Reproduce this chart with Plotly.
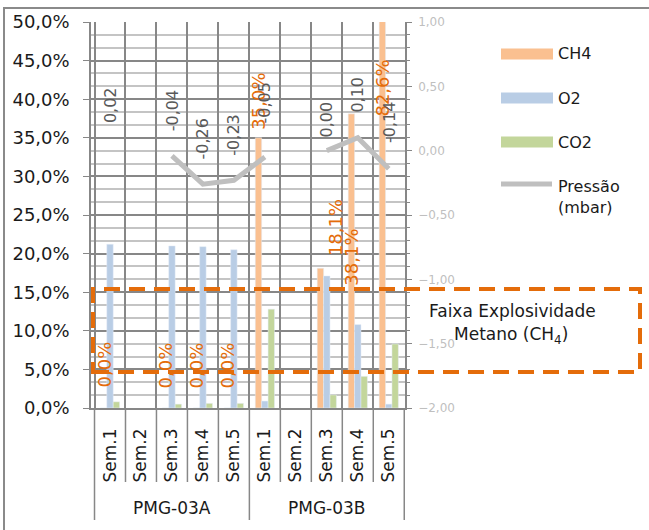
import plotly.graph_objects as go

grupos = ["PMG-03A", "PMG-03B"]
semanas = ["Sem.1", "Sem.2", "Sem.3", "Sem.4", "Sem.5"]

# concentracoes em % (Sem.2 sem leitura)
ch4 = [0.0, None, 0.0, 0.0, 0.0, 35.0, None, 18.1, 38.1, 82.6]
o2 = [21.2, None, 21.0, 20.9, 20.5, 0.9, None, 17.1, 10.8, 0.5]
co2 = [0.8, None, 0.5, 0.6, 0.6, 12.8, None, 1.7, 4.1, 8.3]
# pressao em mbar
pressao = [0.02, None, -0.04, -0.26, -0.23, -0.05, None, 0.00, 0.10, -0.14]

cats = [g + " " + s for g in grupos for s in semanas]
tick_txt = [s for g in grupos for s in semanas]

FONT = "DejaVu Sans"
C_CH4, C_O2, C_CO2, C_P = "#FAC090", "#B9CDE5", "#C3D69B", "#BFBFBF"
LARANJA = "#E46C0A"
GRADE = "#878787"
TXT = "#1a1a1a"

# area do grafico em pixels
L, R, T, B = 91, 405, 22, 408


def px(x):
    return (x - L) / (R - L)


def py(y):
    return (B - y) / (B - T)


def pct(vals):
    return [None if v is None else v / 100 for v in vals]


fig = go.Figure()
fig.add_trace(go.Bar(x=cats, y=pct(ch4), name="CH4", marker_color=C_CH4))
fig.add_trace(go.Bar(x=cats, y=pct(o2), name="O2", marker_color=C_O2))
fig.add_trace(go.Bar(x=cats, y=pct(co2), name="CO2", marker_color=C_CO2))
fig.add_trace(go.Scatter(x=cats, y=pressao, name="Pressão (mbar)", mode="lines",
                         line=dict(color=C_P, width=5), connectgaps=False, yaxis="y2"))

anns = []
# rotulos do CH4 (alguns foram arrastados no original)
ch4_dx = [0, 0, 0, 0, 0, 0, 0, 15, 0, 0]
ch4_dy = [18, 0, 18, 18, 18, 6, 0, 10, -174, -96]
for i, v in enumerate(ch4):
    if v is None:
        continue
    anns.append(dict(x=cats[i], y=min(v, 49.9) / 100, yref="y", xref="x",
                     text=f"{v:.1f}%".replace(".", ","), showarrow=False,
                     textangle=-90, xanchor="center", yanchor="bottom",
                     xshift=-6.5 + ch4_dx[i], yshift=ch4_dy[i],
                     font=dict(family=FONT, size=18, color=LARANJA)))

p_dy = [23, 0, 23, 23, 23, 32, 0, 11, 23, 24]
for i, v in enumerate(pressao):
    if v is None:
        continue
    anns.append(dict(x=cats[i], y=v, yref="y2", xref="x",
                     text=f"{v:.2f}".replace(".", ","), showarrow=False,
                     textangle=-90, xanchor="center", yanchor="bottom", yshift=p_dy[i],
                     font=dict(family=FONT, size=16, color="#595959")))

# grupos no eixo x
for k, g in enumerate(grupos):
    anns.append(dict(x=2 + 5 * k, y=py(508), xref="x", yref="paper", text=g,
                     xanchor="center", yanchor="middle", showarrow=False,
                     font=dict(family=FONT, size=17, color=TXT)))

shapes = []
# separadores abaixo do eixo
for k in range(len(cats) + 1):
    longo = k % 5 == 0
    shapes.append(dict(type="line", xref="x", yref="paper", x0=k - 0.5, x1=k - 0.5,
                       y0=0, y1=py(520 if longo else 482),
                       line=dict(color=GRADE, width=1.5)))

# legenda desenhada a mao
leg = [("CH4", C_CH4, 54), ("O2", C_O2, 98), ("CO2", C_CO2, 142)]
for nome, cor, yc in leg:
    shapes.append(dict(type="rect", xref="paper", yref="paper", x0=px(501), x1=px(553),
                       y0=py(yc + 5.5), y1=py(yc - 5.5), fillcolor=cor, line_width=0))
    anns.append(dict(x=px(556), y=py(yc), xref="paper", yref="paper", text=nome,
                     xanchor="left", yanchor="middle", showarrow=False,
                     font=dict(family=FONT, size=16, color=TXT)))
shapes.append(dict(type="line", xref="paper", yref="paper", x0=px(501), x1=px(552),
                   y0=py(184), y1=py(184), line=dict(color=C_P, width=5)))
anns.append(dict(x=px(556), y=py(197), xref="paper", yref="paper",
                 text="Pressão<br>(mbar)", xanchor="left", yanchor="middle", align="left",
                 showarrow=False, font=dict(family=FONT, size=16, color=TXT)))

# faixa de explosividade
shapes.append(dict(type="rect", xref="paper", yref="paper", x0=px(93), x1=px(640),
                   y0=py(372), y1=py(289), line=dict(color=LARANJA, width=4, dash="16px,9px")))
anns.append(dict(x=px(512), y=py(311), xref="paper", yref="paper", text="Faixa Explosividade",
                 xanchor="center", yanchor="middle", showarrow=False,
                 font=dict(family=FONT, size=17, color=TXT)))
anns.append(dict(x=px(511), y=py(335), xref="paper", yref="paper", text="Metano (CH<sub>4</sub>)",
                 xanchor="center", yanchor="middle", showarrow=False,
                 font=dict(family=FONT, size=17, color=TXT)))

# moldura do grafico (lado direito fica fora da imagem)
shapes.append(dict(type="rect", xref="paper", yref="paper", x0=px(4), x1=px(660),
                   y0=py(540), y1=py(8), line=dict(color="#8a8a8a", width=2)))

fig.update_layout(
    width=649, height=530,
    margin=dict(l=L, r=649 - R, t=T, b=530 - B),
    plot_bgcolor="white", paper_bgcolor="white",
    showlegend=False, separators=",.",
    barmode="group", bargap=0.38, bargroupgap=0,
    font=dict(family=FONT, color=TXT),
    xaxis=dict(categoryorder="array", categoryarray=cats, tickmode="array",
               tickvals=cats, ticktext=tick_txt, tickangle=-90, tickson="boundaries",
               showgrid=True, gridcolor=GRADE, gridwidth=1.5, ticks="",
               showline=True, linecolor=GRADE, linewidth=1.5, ticklabelstandoff=12,
               tickfont=dict(size=17, color=TXT)),
    yaxis=dict(range=[0, 0.5], dtick=0.05, tickformat=".1%", showgrid=True,
               gridcolor=GRADE, gridwidth=1.5, showline=True, linecolor=GRADE, linewidth=1.5,
               ticks="outside", ticklen=6, tickcolor=GRADE, ticklabelstandoff=10,
               zeroline=False, tickfont=dict(size=18, color=TXT),
               minor=dict(dtick=0.05 / 3, showgrid=True, gridcolor="#C4C4C4", gridwidth=1.5)),
    yaxis2=dict(range=[-2, 1], dtick=0.5, tickformat=".2f", overlaying="y", side="right",
                showgrid=False, zeroline=False, showline=True, linecolor=GRADE, linewidth=1.5,
                ticks="outside", ticklen=5, tickcolor=GRADE, ticklabelstandoff=4,
                tickfont=dict(size=12, color="#BFBFBF"),
                minor=dict(dtick=0.1, ticks="outside", ticklen=3, tickcolor=GRADE)),
    shapes=shapes, annotations=anns,
)

fig.write_html("out.html", config={"displayModeBar": False},
               post_script="document.body.style.margin='0';")
